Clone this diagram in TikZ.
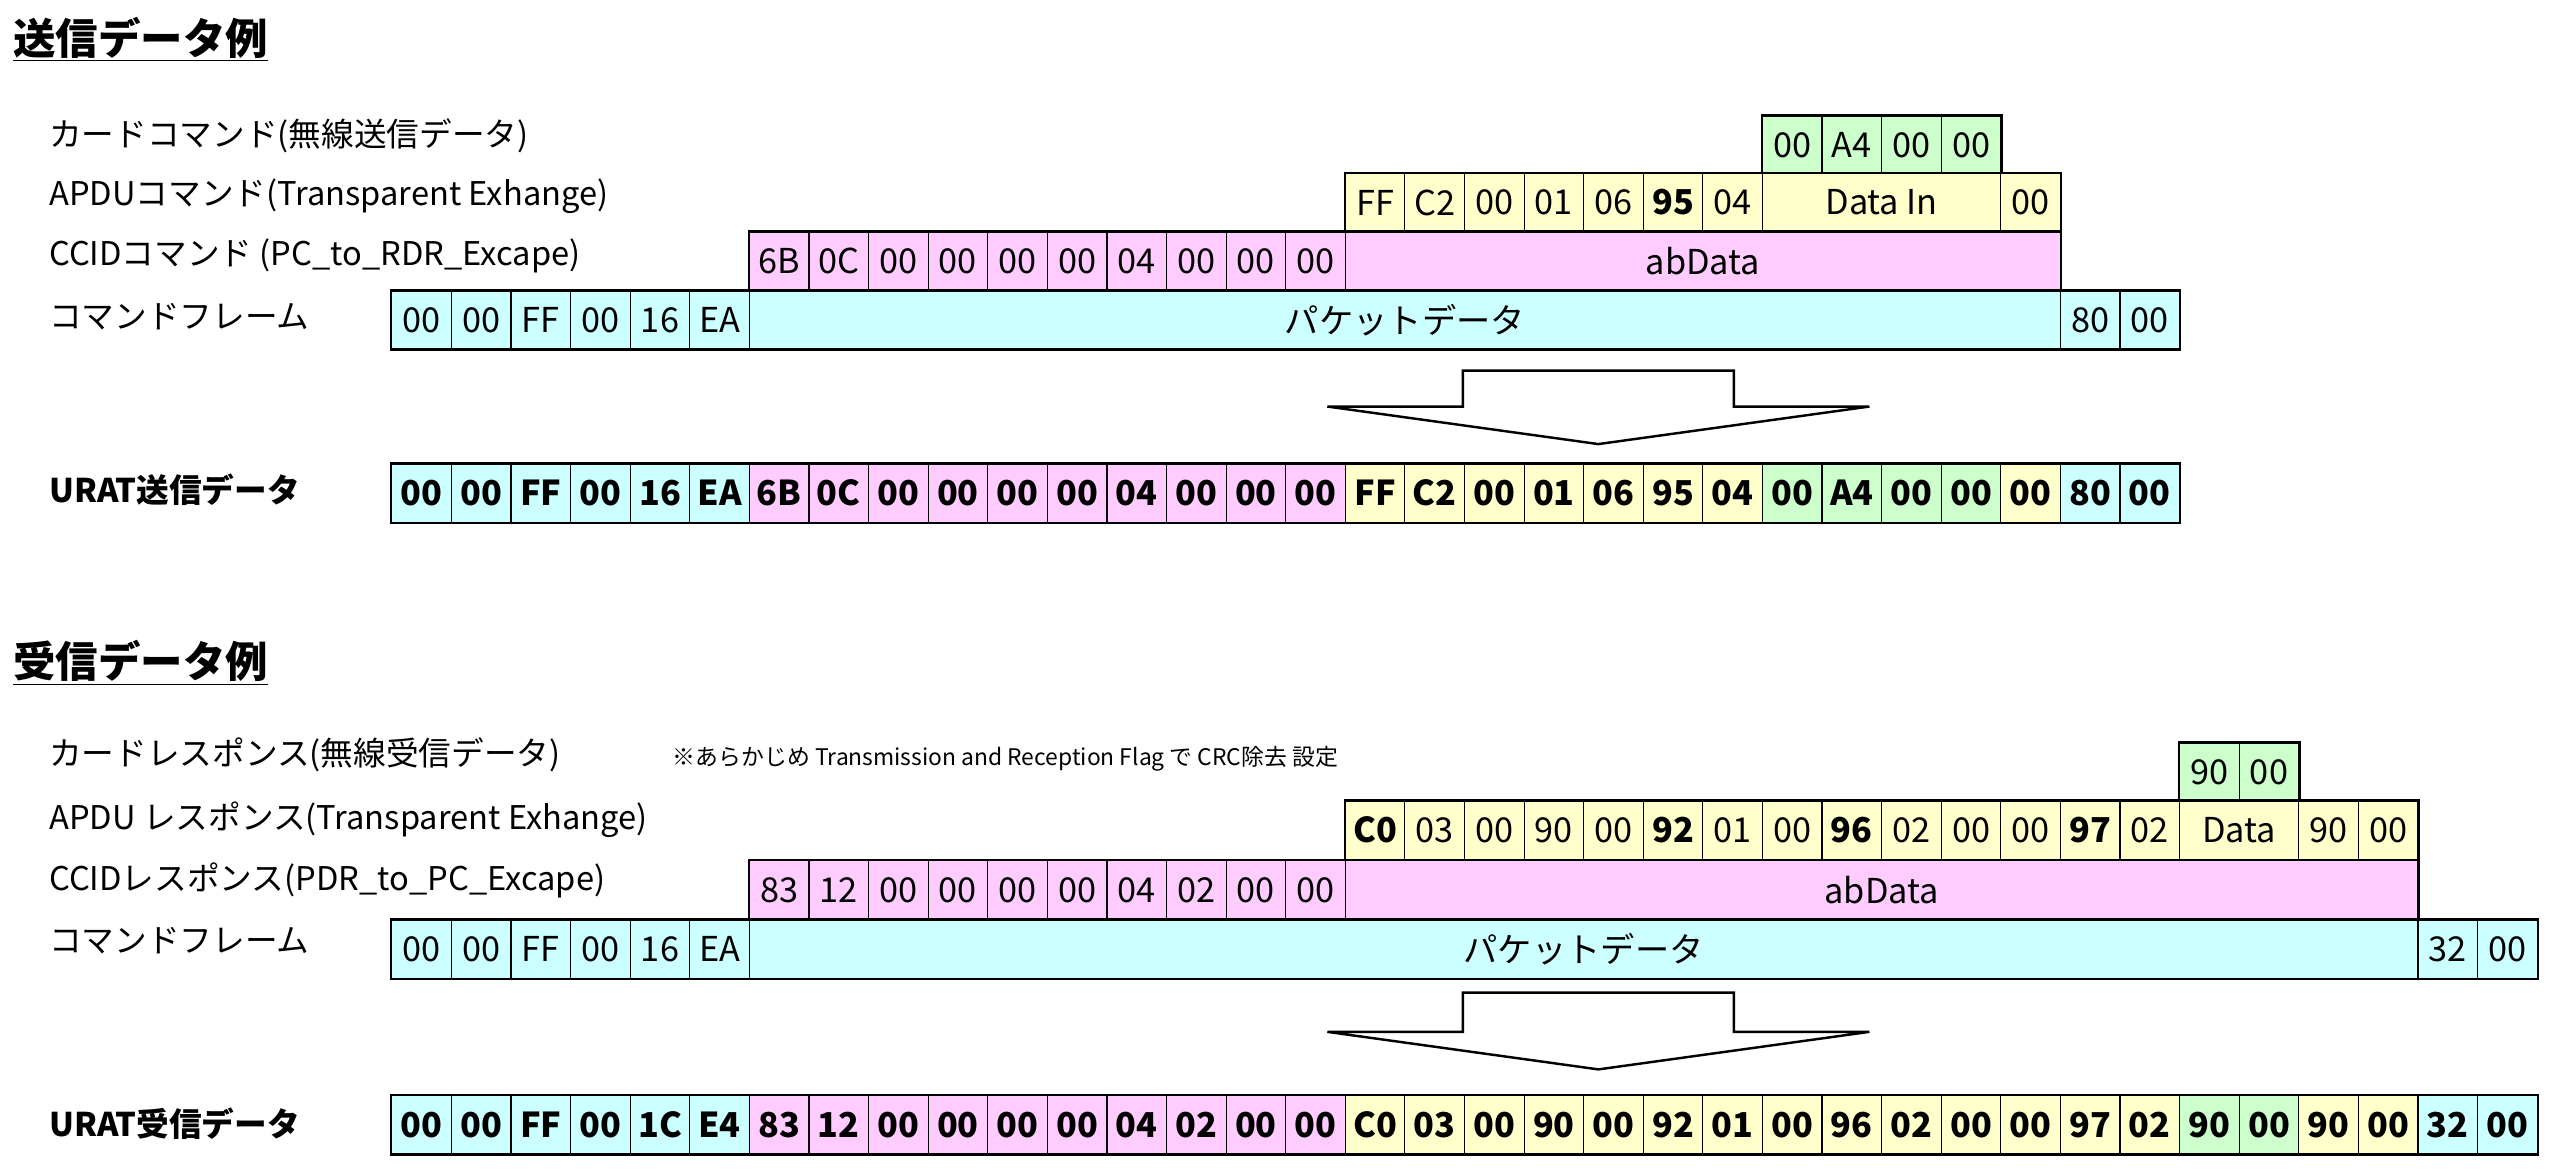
\documentclass[tikz,border=0pt]{standalone}
\usepackage{fontspec}
\setmainfont{Noto Sans CJK JP}
\begin{document}
\begin{tikzpicture}[x=1pt,y=-1pt,
  cell/.style={draw,line width=0.7pt,minimum width=36.5pt,minimum height=35.7pt,inner sep=0pt,anchor=center,font=\fontsize{21}{21}\selectfont},
  lbl/.style={anchor=west,inner sep=0pt,font=\fontsize{20}{20}\selectfont},
  ttl/.style={anchor=west,inner sep=0pt,font=\fontsize{26}{26}\selectfont\bfseries},
  frame/.style={draw,line width=1.5pt},
  bigarrow/.style={draw,line width=1.5pt,fill=white}]
\definecolor{cC}{HTML}{CCFFFF}
\definecolor{cP}{HTML}{FFCCFF}
\definecolor{cY}{HTML}{FFFFCC}
\definecolor{cG}{HTML}{CCFFCC}
\useasboundingbox (0,0) rectangle (1568,720);
\def\W{36.5}
% ================= send ===================
\node[ttl] (t1) at (8,24) {\underline{送信データ例}};
\node[lbl] (l1) at (30,83) {カードコマンド(無線送信データ)};
\node[lbl] (l2) at (30,120) {APDUコマンド(Transparent Exhange)};
\node[lbl] (l3) at (30,157) {CCIDコマンド (PC\_to\_RDR\_Excape)};
\node[lbl] (l4) at (30,194) {コマンドフレーム};
\node[lbl,font=\fontsize{20}{20}\selectfont\bfseries] (l5) at (30,300) {URAT送信データ};
% green row
\foreach \t [count=\i from 0] in {00,A4,00,00}
  \node[cell,fill=cG] (sg\i) at ({240+\W*(23+\i+0.5)},89) {\t};
\draw[frame] (sg0.north west) rectangle (sg3.south east);
% APDU row
\foreach \t [count=\i from 0] in {FF,C2,00,01,06,\textbf{95},04}
  \node[cell,fill=cY] (sa\i) at ({240+\W*(16+\i+0.5)},124) {\t};
\node[cell,fill=cY,minimum width=4*\W pt] (sadata) at ({240+\W*25},124) {Data In};
\node[cell,fill=cY] (saend) at ({240+\W*27.5},124) {00};
\draw[frame] (sa0.north west) rectangle (saend.south east);
% CCID row
\foreach \t [count=\i from 0] in {6B,0C,00,00,00,00,04,00,00,00}
  \node[cell,fill=cP] (sc\i) at ({240+\W*(6+\i+0.5)},160) {\t};
\node[cell,fill=cP,minimum width=12*\W pt] (scab) at ({240+\W*22},160) {abData};
\draw[frame] (sc0.north west) rectangle (scab.south east);
% frame row
\foreach \t [count=\i from 0] in {00,00,FF,00,16,EA}
  \node[cell,fill=cC] (sf\i) at ({240+\W*(\i+0.5)},196) {\t};
\node[cell,fill=cC,minimum width=22*\W pt] (sfpk) at ({240+\W*17},196) {パケットデータ};
\node[cell,fill=cC] (sf80) at ({240+\W*28.5},196) {80};
\node[cell,fill=cC] (sf00) at ({240+\W*29.5},196) {00};
\draw[frame] (sf0.north west) rectangle (sf00.south east);
% arrow
\draw[bigarrow] (896,227) -- (1062,227) -- (1062,249) -- (1145,249) -- (979,272) -- (813,249) -- (896,249) -- cycle;
% URAT row
\foreach \t/\c [count=\i from 0] in {00/cC,00/cC,FF/cC,00/cC,16/cC,EA/cC,6B/cP,0C/cP,00/cP,00/cP,00/cP,00/cP,04/cP,00/cP,00/cP,00/cP,FF/cY,C2/cY,00/cY,01/cY,06/cY,95/cY,04/cY,00/cG,A4/cG,00/cG,00/cG,00/cY,80/cC,00/cC}
  \node[cell,fill=\c,font=\fontsize{21}{21}\selectfont\bfseries] (su\i) at ({240+\W*(\i+0.5)},302) {\t};
\draw[frame] (su0.north west) rectangle (su29.south east);
% ================= receive ===================
\node[ttl] (t2) at (8,406) {\underline{受信データ例}};
\node[lbl] (m1) at (30,462) {カードレスポンス(無線受信データ)};
\node[lbl,font=\fontsize{14}{14}\selectfont] (m1n) at (412,465) {※あらかじめ Transmission and Reception Flag で CRC除去 設定};
\node[lbl] (m2) at (30,502) {APDU レスポンス(Transparent Exhange)};
\node[lbl] (m3) at (30,539) {CCIDレスポンス(PDR\_to\_PC\_Excape)};
\node[lbl] (m4) at (30,576) {コマンドフレーム};
\node[lbl,font=\fontsize{20}{20}\selectfont\bfseries] (m5) at (30,688) {URAT受信データ};
% green row
\foreach \t [count=\i from 0] in {90,00}
  \node[cell,fill=cG] (rg\i) at ({240+\W*(30+\i+0.5)},473) {\t};
\draw[frame] (rg0.north west) rectangle (rg1.south east);
% APDU row
\foreach \t [count=\i from 0] in {\textbf{C0},03,00,90,00,\textbf{92},01,00,\textbf{96},02,00,00,\textbf{97},02}
  \node[cell,fill=cY] (ra\i) at ({240+\W*(16+\i+0.5)},508.5) {\t};
\node[cell,fill=cY,minimum width=2*\W pt] (radata) at ({240+\W*31},508.5) {Data};
\node[cell,fill=cY] (ra90) at ({240+\W*32.5},508.5) {90};
\node[cell,fill=cY] (ra00) at ({240+\W*33.5},508.5) {00};
\draw[frame] (ra0.north west) rectangle (ra00.south east);
% CCID row
\foreach \t [count=\i from 0] in {83,12,00,00,00,00,04,02,00,00}
  \node[cell,fill=cP] (rc\i) at ({240+\W*(6+\i+0.5)},545) {\t};
\node[cell,fill=cP,minimum width=18*\W pt] (rcab) at ({240+\W*25},545) {abData};
\draw[frame] (rc0.north west) rectangle (rcab.south east);
% frame row
\foreach \t [count=\i from 0] in {00,00,FF,00,16,EA}
  \node[cell,fill=cC] (rf\i) at ({240+\W*(\i+0.5)},581.5) {\t};
\node[cell,fill=cC,minimum width=28*\W pt] (rfpk) at ({240+\W*20},581.5) {パケットデータ};
\node[cell,fill=cC] (rf32) at ({240+\W*34.5},581.5) {32};
\node[cell,fill=cC] (rf00) at ({240+\W*35.5},581.5) {00};
\draw[frame] (rf0.north west) rectangle (rf00.south east);
% arrow
\draw[bigarrow] (896,608) -- (1062,608) -- (1062,632) -- (1145,632) -- (979,655) -- (813,632) -- (896,632) -- cycle;
% URAT row
\foreach \t/\c [count=\i from 0] in {00/cC,00/cC,FF/cC,00/cC,1C/cC,E4/cC,83/cP,12/cP,00/cP,00/cP,00/cP,00/cP,04/cP,02/cP,00/cP,00/cP,C0/cY,03/cY,00/cY,90/cY,00/cY,92/cY,01/cY,00/cY,96/cY,02/cY,00/cY,00/cY,97/cY,02/cY,90/cG,00/cG,90/cY,00/cY,32/cC,00/cC}
  \node[cell,fill=\c,font=\fontsize{21}{21}\selectfont\bfseries] (ru\i) at ({240+\W*(\i+0.5)},689) {\t};
\draw[frame] (ru0.north west) rectangle (ru35.south east);
\end{tikzpicture}
\end{document}
